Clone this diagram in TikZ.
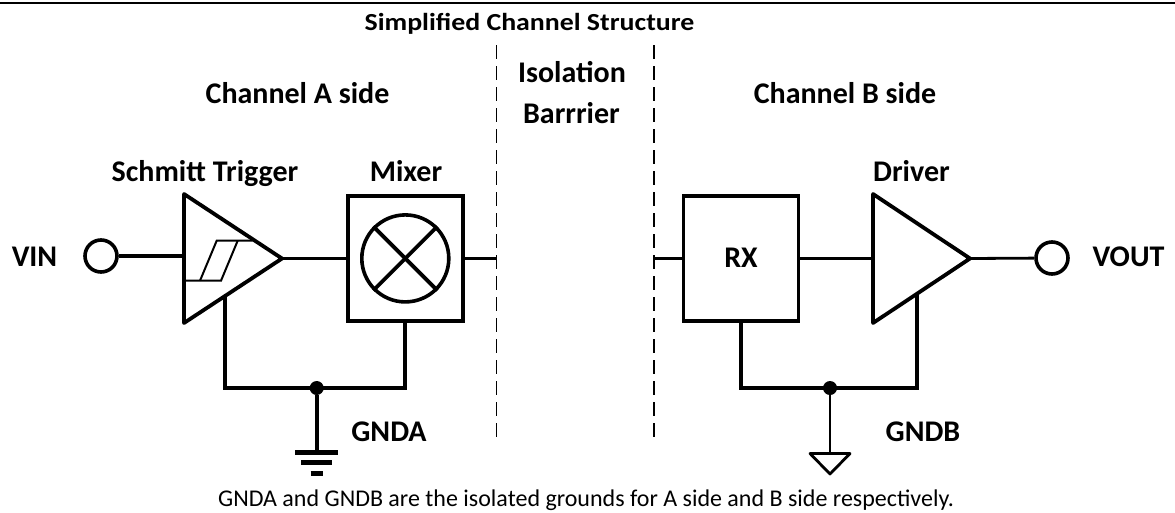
\documentclass[tikz,border=0pt]{standalone}
\usepackage{fontspec}
\usepackage{graphicx}
\setmainfont{Carlito}
\usetikzlibrary{calc}
\tikzset{
  wire/.style={line width=3.8pt,line cap=butt,line join=miter},
  thinwire/.style={line width=2.8pt},
  fine/.style={line width=2pt},
  barrier/.style={line width=1.4pt,dash pattern=on 14pt off 7pt},
  blockbox/.style={draw,line width=3.8pt,minimum width=115pt,minimum height=125pt,inner sep=0pt,anchor=center},
  terminal/.style={draw,circle,line width=3.6pt,minimum size=32pt,inner sep=0pt},
  junction/.style={fill=black,circle,minimum size=14pt,inner sep=0pt},
  mixcircle/.style={draw,circle,line width=3.6pt,minimum size=87pt,inner sep=0pt},
  lab/.style={font=\fontsize{30}{34}\selectfont\bfseries,inner sep=0pt,anchor=base},
  title/.style={font=\fontsize{24.5}{28}\selectfont\bfseries,inner sep=0pt,anchor=base},
  note/.style={font=\fontsize{24}{28}\selectfont,inner sep=0pt,anchor=base}
}
\begin{document}
\begin{tikzpicture}[x=1pt,y=-1pt]
\useasboundingbox (0,0) rectangle (1175,512);
\fill[white] (0,0) rectangle (1175,512);
% top rule
\coordinate (ruleL) at (0,3); \coordinate (ruleR) at (1175,3);
\draw[line width=2.6pt] (ruleL) -- (ruleR);
% barriers
\coordinate (b1t) at (496.7,45); \coordinate (b1b) at (496.7,442);
\coordinate (b2t) at (654,45); \coordinate (b2b) at (654,442);
\draw[barrier] (b1t) -- (b1b);
\draw[barrier] (b2t) -- (b2b);
% texts
\node[title] (ttl) at (529.5,30.5) {\scalebox{1.136}[1]{Simplified Channel Structure}};
\node[lab] (sideA) at (297.5,103.5) {Channel A side};
\node[lab] (sideB) at (845,103.5) {Channel B side};
\node[lab] (iso1) at (572,82.7) {Isolation};
\node[lab] (iso2) at (571.5,123.5) {Barrrier};
\node[lab] (schm) at (205,181.7) {Schmitt Trigger};
\node[lab] (mixl) at (406,181.7) {Mixer};
\node[lab] (drvl) at (911.5,181.7) {Driver};
\node[lab] (vin) at (34.5,266.7) {VIN};
\node[lab] (vout) at (1128.5,266.7) {VOUT};
\node[lab] (gnda) at (389,441.7) {GNDA};
\node[lab] (gndb) at (923,441.7) {GNDB};
\node[note] (fn) at (586,506) {GNDA and GNDB are the isolated grounds for A side and B side respectively.};
% Schmitt triangle
\coordinate (st1) at (184,194); \coordinate (st2) at (184,323); \coordinate (stt) at (282,258.5);
\draw[wire,line join=round] (st1) -- (stt) -- (st2) -- cycle;
\coordinate (h1) at (185,280.7); \coordinate (h2) at (221,280.7); \coordinate (h3) at (237.7,240.7);
\coordinate (h4) at (216.7,240.7); \coordinate (h5) at (252.7,240.7); \coordinate (h6) at (200,280.7);
\draw[fine] (h1) -- (h2) -- (h3);
\draw[fine] (h5) -- (h4) -- (h6);
% Mixer
\node[blockbox] (mix) at (405.3,258.4) {};
\node[mixcircle] (mc) at (405.3,258.4) {};
\draw[wire] (mc.45) -- (mc.225);
\draw[wire] (mc.135) -- (mc.315);
% RX
\node[blockbox] (rx) at (741,258.4) {};
\node[lab] (rxl) at (741,267) {RX};
% Driver
\coordinate (dt1) at (873,194); \coordinate (dt2) at (873,323); \coordinate (dtt) at (970,258.5);
\draw[wire,line join=round] (dt1) -- (dtt) -- (dt2) -- cycle;
% terminals
\node[terminal] (tin) at (101,256) {};
\node[terminal] (tout) at (1052,258) {};
\coordinate (stin) at (184,256);
\draw[wire] (tin) -- (stin);
\draw[wire] (stt) -- (stt -| mix.west);
\coordinate (mo) at (496.7,258.4);
\draw[wire] (mix.east) -- (mo);
\coordinate (ri) at (654,258.4);
\draw[wire] (ri) -- (rx.west);
\coordinate (dl) at (873,258.4);
\draw[wire] (rx.east) -- (dl);
\draw[thinwire] (dtt) -- (tout);
% ground A
\coordinate (ga1) at (224.7,295); \coordinate (ga2) at (224.7,388);
\node[junction] (ja) at (316.7,388) {};
\coordinate (ga3) at (405.3,388);
\draw[wire] (ga1) -- (ga2) -- (ga3) -- (mix.south);
\coordinate (gas) at (316.7,452);
\draw[wire] (ja) -- (gas);
\coordinate (a1) at (295,452); \coordinate (a2) at (338,452);
\coordinate (a3) at (301,462.7); \coordinate (a4) at (332,462.7);
\coordinate (a5) at (310.7,473); \coordinate (a6) at (322.7,473);
\draw[line width=5pt] (a1) -- (a2);
\draw[line width=5pt] (a3) -- (a4);
\draw[line width=5pt] (a5) -- (a6);
% ground B
\coordinate (gb1) at (741,388); \coordinate (gb2) at (916.7,388); \coordinate (gb3) at (916.7,295);
\node[junction] (jb) at (830,388) {};
\draw[wire] (rx.south) -- (gb1) -- (gb2) -- (gb3);
\coordinate (gbs) at (830,453.5);
\draw[thinwire] (jb) -- (gbs);
\coordinate (b1) at (810,453.5); \coordinate (b2) at (850,453.5); \coordinate (b3) at (830,474);
\draw[thinwire,line join=round] (b1) -- (b2) -- (b3) -- cycle;
\end{tikzpicture}
\end{document}
